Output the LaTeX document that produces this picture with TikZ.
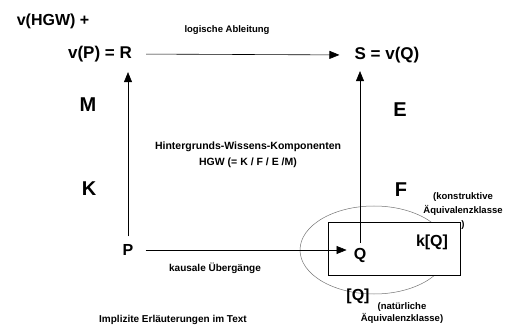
\documentclass[tikz,border=0pt]{standalone}
\usepackage{fontspec}
\setmainfont{Liberation Sans}
\usetikzlibrary{arrows.meta,shapes.geometric}
\tikzset{
  lbl/.style={inner sep=0pt, font=\fontsize{17}{20}\selectfont\bfseries},
  mid/.style={inner sep=0pt, font=\fontsize{16}{19}\selectfont\bfseries},
  letter/.style={inner sep=0pt, font=\fontsize{20}{24}\selectfont\bfseries},
  small/.style={inner sep=0pt, align=center, font=\fontsize{9.5}{13.5}\selectfont\bfseries},
  arr/.style={draw=black, line width=0.6pt, -{Triangle[length=10pt,width=8pt]}},
}
\begin{document}
\begin{tikzpicture}[x=1pt,y=-1pt]
\useasboundingbox (0,0) rectangle (507,329);
% ellipse and box
\node[draw=gray!90!black, line width=0.5pt, ellipse, minimum width=148pt, minimum height=88pt, inner sep=0pt] (ell) at (374,250) {};
\node[draw=black, fill=white, line width=0.6pt, minimum width=132pt, minimum height=53pt, inner sep=0pt] (box) at (394,248.5) {};
% main labels
\node[mid] (hgw) at (53,21) {v(HGW) +};
\node[lbl] (R) at (100,54) {v(P) = R};
\node[lbl] (S) at (387,55) {S = v(Q)};
\node[mid] (P) at (128,250) {P};
\node[mid] (Q) at (360,255) {Q};
\node[mid] (kQ) at (432,242) {k[Q]};
\node[mid] (bQ) at (358,296) {[Q]};
\node[letter] (M) at (88,105) {M};
\node[letter] (K) at (89,189) {K};
\node[letter] (E) at (400,110) {E};
\node[letter] (F) at (401,190) {F};
% small texts
\node[small] (logab) at (227,30) {logische Ableitung};
\node[small, font=\fontsize{10.5}{15.5}\selectfont\bfseries] (hgwk) at (248,155) {Hintergrunds-Wissens-Komponenten\\HGW (= K / F / E /M)};
\node[small, font=\fontsize{10}{13}\selectfont\bfseries] (kaus) at (215,268) {kausale Übergänge};
\node[small, font=\fontsize{10}{13}\selectfont\bfseries] (impl) at (173,320) {Implizite Erläuterungen im Text};
\node[small, font=\fontsize{9.5}{14}\selectfont\bfseries] (konst) at (463,211) {(konstruktive\\Äquivalenzklasse\\)};
\node[small, font=\fontsize{9.5}{12.5}\selectfont\bfseries] (nat) at (402,313) {(natürliche\\Äquivalenzklasse)};
% connectors
\draw[arr, shorten <=14pt, shorten >=15pt] (R.east) -- (S.west);
\draw[arr, shorten <=8pt, shorten >=10pt] (P.north) -- (P.north |- R.south);
\draw[arr, shorten <=12pt, shorten >=7pt] (P.east) -- (P.east -| Q.west);
\draw[arr, shorten <=5pt, shorten >=8pt] (Q.north) -- (Q.north |- S.south);
\end{tikzpicture}
\end{document}
